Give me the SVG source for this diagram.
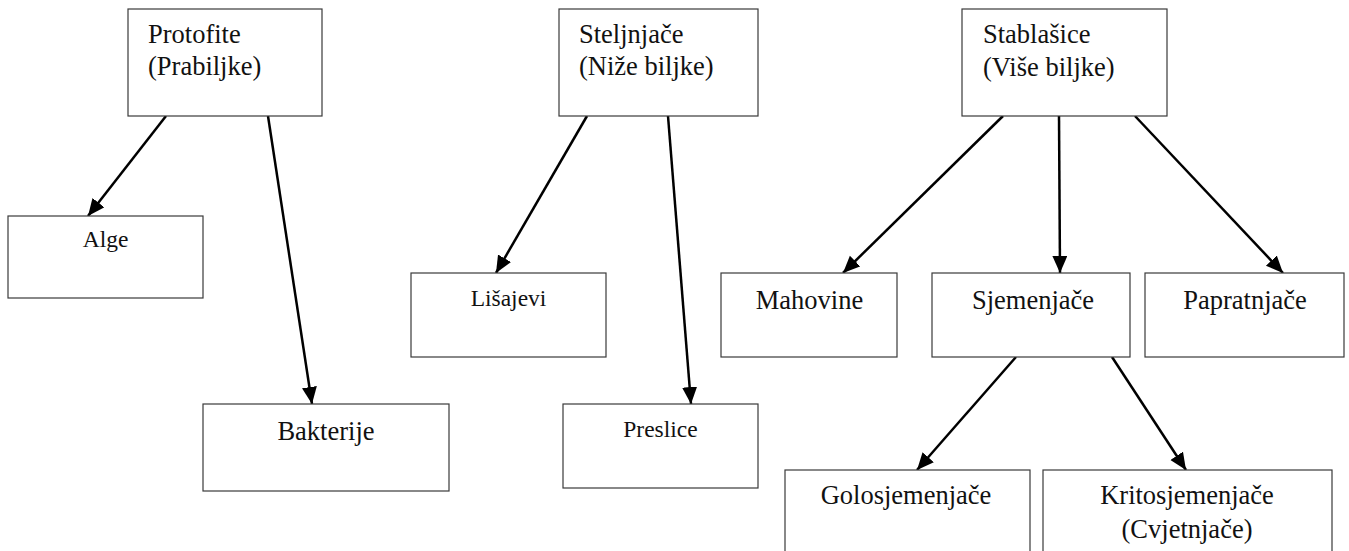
<svg xmlns="http://www.w3.org/2000/svg" width="1349" height="551" viewBox="0 0 1349 551">
<style>
  .box { fill: #ffffff; stroke: #3a3a3a; stroke-width: 1.2; }
  .t { font-family: "Liberation Serif", "Times New Roman", serif; font-size: 26.5px; fill: #111111; }
  .s { font-size: 23.5px; }
  .m { text-anchor: middle; }
  .edge { stroke: #000000; stroke-width: 2.5; fill: none; marker-end: url(#ah); }
</style>
<defs>
  <marker id="ah" markerUnits="userSpaceOnUse" markerWidth="18" markerHeight="16" refX="17" refY="7.5" orient="auto">
    <path d="M0,0 L17,7.5 L0,15 z" fill="#000000"/>
  </marker>
</defs>
<rect x="0" y="0" width="1349" height="551" fill="#ffffff"/>
<g id="connectors">
  <line class="edge" x1="166" y1="116" x2="88" y2="216"/>
  <line class="edge" x1="268" y1="116" x2="312" y2="404"/>
  <line class="edge" x1="587" y1="116" x2="496" y2="273"/>
  <line class="edge" x1="668" y1="116" x2="691" y2="404"/>
  <line class="edge" x1="1003" y1="116" x2="843" y2="273"/>
  <line class="edge" x1="1059" y1="116" x2="1060" y2="273"/>
  <line class="edge" x1="1135" y1="116" x2="1283" y2="273"/>
  <line class="edge" x1="1016" y1="357" x2="917" y2="470"/>
  <line class="edge" x1="1112" y1="357" x2="1186" y2="470"/>
</g>
<g id="protofite">
  <rect class="box" x="128" y="9" width="194" height="107"/>
  <text class="t" x="148" y="43">Protofite</text>
  <text class="t" x="148" y="75">(Prabiljke)</text>
</g>
<g id="alge">
  <rect class="box" x="8" y="216" width="195" height="82"/>
  <text class="t s m" x="105.5" y="247">Alge</text>
</g>
<g id="bakterije">
  <rect class="box" x="203" y="404" width="246" height="87"/>
  <text class="t m" x="326" y="440">Bakterije</text>
</g>
<g id="steljnjace">
  <rect class="box" x="559" y="9" width="199" height="107"/>
  <text class="t" x="579" y="43">Steljnjače</text>
  <text class="t" x="579" y="75">(Niže biljke)</text>
</g>
<g id="lisajevi">
  <rect class="box" x="411" y="273" width="195" height="84"/>
  <text class="t s m" x="508.5" y="306">Lišajevi</text>
</g>
<g id="preslice">
  <rect class="box" x="563" y="404" width="195" height="84"/>
  <text class="t s m" x="660.5" y="437">Preslice</text>
</g>
<g id="stablasice">
  <rect class="box" x="962" y="9" width="205" height="107"/>
  <text class="t" x="983" y="43">Stablašice</text>
  <text class="t" x="983" y="76">(Više biljke)</text>
</g>
<g id="mahovine">
  <rect class="box" x="721" y="273" width="176" height="84"/>
  <text class="t m" x="809.5" y="309">Mahovine</text>
</g>
<g id="sjemenjace">
  <rect class="box" x="932" y="273" width="198" height="84"/>
  <text class="t m" x="1033" y="309">Sjemenjače</text>
</g>
<g id="papratnjace">
  <rect class="box" x="1145" y="273" width="199" height="84"/>
  <text class="t m" x="1245" y="309">Papratnjače</text>
</g>
<g id="golosjemenjace">
  <rect class="box" x="785" y="470" width="245" height="110"/>
  <text class="t m" x="906" y="504">Golosjemenjače</text>
</g>
<g id="kritosjemenjace">
  <rect class="box" x="1043" y="470" width="289" height="110"/>
  <text class="t m" x="1187" y="504">Kritosjemenjače</text>
  <text class="t m" x="1187" y="538">(Cvjetnjače)</text>
</g>
</svg>
